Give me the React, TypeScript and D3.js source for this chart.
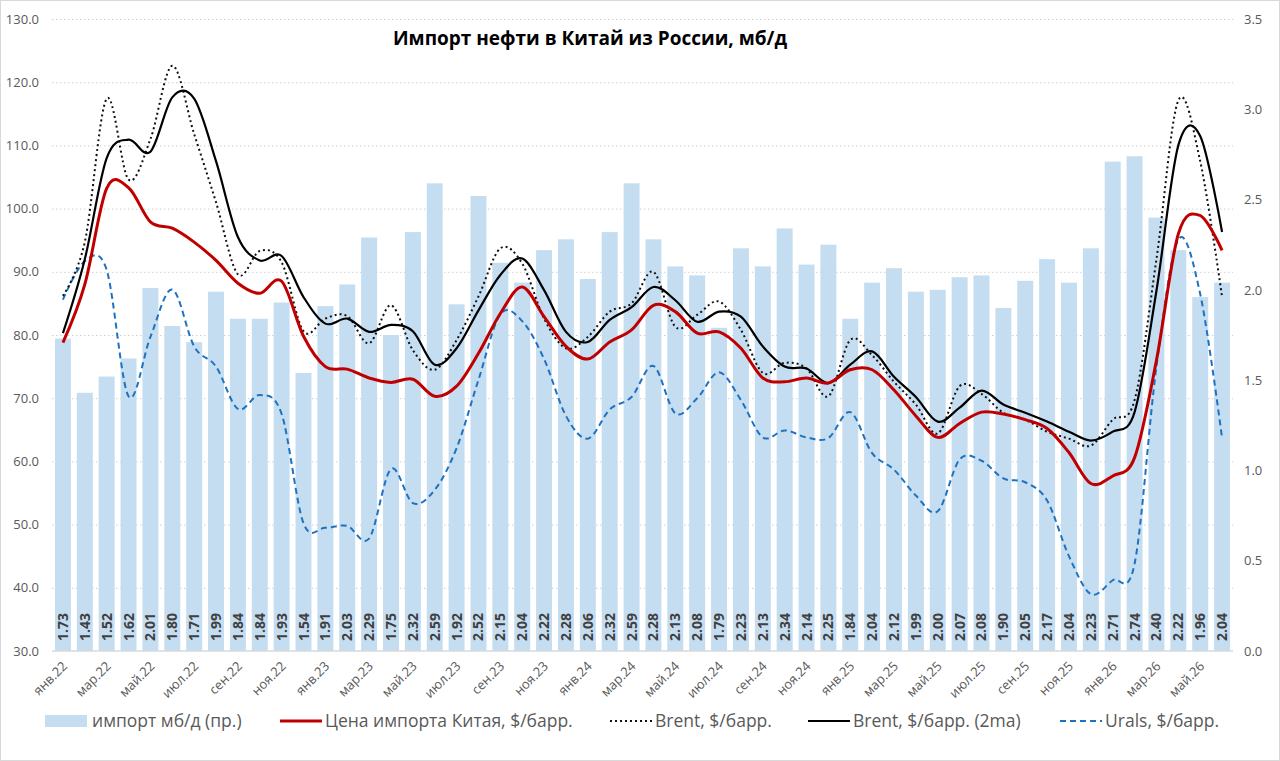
import { useEffect, useRef } from 'react'
import * as d3 from 'd3'

const MONTHS = [
  'янв.22', 'фев.22', 'мар.22', 'апр.22', 'май.22', 'июн.22', 'июл.22', 'авг.22', 'сен.22', 'окт.22', 'ноя.22', 'дек.22',
  'янв.23', 'фев.23', 'мар.23', 'апр.23', 'май.23', 'июн.23', 'июл.23', 'авг.23', 'сен.23', 'окт.23', 'ноя.23', 'дек.23',
  'янв.24', 'фев.24', 'мар.24', 'апр.24', 'май.24', 'июн.24', 'июл.24', 'авг.24', 'сен.24', 'окт.24', 'ноя.24', 'дек.24',
  'янв.25', 'фев.25', 'мар.25', 'апр.25', 'май.25', 'июн.25', 'июл.25', 'авг.25', 'сен.25', 'окт.25', 'ноя.25', 'дек.25',
  'янв.26', 'фев.26', 'мар.26', 'апр.26', 'май.26', 'июн.26',
]

// импорт, мб/д (правая ось)
const IMPORTS = [
  1.73, 1.43, 1.52, 1.62, 2.01, 1.80, 1.71, 1.99, 1.84, 1.84, 1.93, 1.54,
  1.91, 2.03, 2.29, 1.75, 2.32, 2.59, 1.92, 2.52, 2.15, 2.04, 2.22, 2.28,
  2.06, 2.32, 2.59, 2.28, 2.13, 2.08, 1.79, 2.23, 2.13, 2.34, 2.14, 2.25,
  1.84, 2.04, 2.12, 1.99, 2.00, 2.07, 2.08, 1.90, 2.05, 2.17, 2.04, 2.23,
  2.71, 2.74, 2.40, 2.22, 1.96, 2.04,
]

const CHINA_PRICE = [
  78.8, 88.0, 103.2, 103.3, 97.9, 96.9, 94.7, 91.8, 88.2, 86.6, 88.5, 79.8,
  75.0, 74.6, 73.2, 72.5, 73.0, 70.3, 71.9, 77.1, 83.4, 87.6, 82.9, 78.2,
  76.2, 78.9, 80.8, 84.7, 83.7, 80.3, 80.5, 77.9, 73.2, 72.6, 73.2, 72.4,
  74.5, 74.5, 71.3, 67.2, 63.8, 66.0, 67.8, 67.5, 66.6, 65.2, 61.4, 56.5,
  57.7, 60.6, 76.0, 96.0, 98.9, 93.4,
]

const BRENT = [
  86.2, 94.7, 117.4, 104.6, 111.0, 122.6, 111.8, 101.0, 89.6, 93.3, 91.5, 80.6,
  82.6, 83.0, 78.7, 84.7, 77.6, 74.5, 79.2, 86.1, 93.7, 91.3, 82.6, 77.9,
  79.7, 83.7, 85.0, 90.0, 81.3, 83.2, 85.3, 80.8, 74.0, 75.6, 74.7, 70.3,
  79.2, 76.8, 72.6, 69.0, 64.4, 71.9, 70.7, 67.7, 66.6, 64.7, 63.6, 62.5,
  66.6, 69.7, 92.0, 117.1, 107.5, 86.0,
]

const BRENT_2MA = [
  80.3, 92.0, 108.0, 110.9, 109.0, 117.6, 117.4, 107.5, 95.5, 91.8, 92.5, 86.0,
  81.8, 82.6, 80.5, 81.6, 80.6, 75.3, 77.9, 83.9, 89.5, 92.1, 87.1, 80.5,
  78.9, 82.4, 84.4, 87.6, 85.5, 82.1, 83.7, 82.9, 78.2, 75.0, 74.7, 72.4,
  75.3, 77.4, 73.4, 70.2, 66.3, 68.5, 71.2, 69.0, 67.7, 66.3, 64.7, 63.3,
  64.7, 67.8, 87.0, 110.0, 111.5, 96.3,
]

const URALS = [
  85.6, 91.7, 90.3, 70.3, 79.7, 87.2, 78.2, 75.0, 68.3, 70.5, 67.5, 50.2,
  49.5, 49.8, 47.8, 58.8, 53.4, 55.5, 62.1, 72.9, 83.3, 82.2, 76.2, 67.2,
  63.6, 68.2, 70.2, 75.1, 67.6, 70.0, 74.1, 69.7, 63.8, 64.9, 63.8, 63.7,
  67.8, 61.3, 58.7, 54.6, 52.1, 60.3, 60.1, 57.3, 56.7, 53.8, 45.0, 39.0,
  41.2, 43.8, 75.0, 95.1, 86.5, 63.7,
]

const LEFT_TICKS = [30, 40, 50, 60, 70, 80, 90, 100, 110, 120, 130]
const RIGHT_TICKS = [0, 0.5, 1.0, 1.5, 2.0, 2.5, 3.0, 3.5]

const W = 1280
const H = 761
const FONT = '"Open Sans", "Noto Sans", sans-serif'
const GREY = '#595959'
const BAR = '#c5ddf1'

export default function App() {
  const svgRef = useRef<SVGSVGElement>(null)

  useEffect(() => {
    if (!svgRef.current) return
    document.body.style.margin = '0'
    const svg = d3.select(svgRef.current)
    svg.selectAll('*').remove()

    const left = 52
    const right = 1233
    const top = 19
    const bottom = 651

    svg.append('rect').attr('x', 0.5).attr('y', 0.5).attr('width', W - 1).attr('height', H - 1)
      .attr('fill', '#fff').attr('stroke', '#d9d9d9')

    const x = d3.scaleBand<number>().domain(d3.range(MONTHS.length)).range([left, right])
      .paddingInner(0.27).paddingOuter(0.135)
    const yL = d3.scaleLinear().domain([30, 130]).range([bottom, top])
    const yR = d3.scaleLinear().domain([0, 3.5]).range([bottom, top])
    const cx = (i: number) => (x(i) ?? 0) + x.bandwidth() / 2

    // grid
    const grid = svg.append('g').attr('transform', `translate(${left},0)`)
      .call(d3.axisLeft(yL).tickValues(LEFT_TICKS.slice(1)).tickSize(-(right - left)).tickFormat(() => ''))
    grid.select('.domain').remove()
    grid.selectAll('line').attr('stroke', '#d0d0d0').attr('stroke-dasharray', '1.5,2.5')

    // bars
    svg.append('g').selectAll('rect').data(IMPORTS).join('rect')
      .attr('x', (_, i) => x(i) ?? 0).attr('width', x.bandwidth())
      .attr('y', d => yR(d)).attr('height', d => bottom - yR(d))
      .attr('fill', BAR)

    // baseline
    svg.append('line').attr('x1', left).attr('x2', right).attr('y1', bottom).attr('y2', bottom)
      .attr('stroke', '#d9d9d9').attr('stroke-width', 1.5)

    // bar labels
    svg.append('g').selectAll('text').data(IMPORTS).join('text')
      .attr('transform', (_, i) => `translate(${cx(i) + 5},${bottom - 10}) rotate(-90)`)
      .attr('font-family', FONT).attr('font-size', '14px').attr('font-weight', 700)
      .attr('fill', '#404040').text(d => d.toFixed(2))

    // lines
    const line = d3.line<number>().x((_, i) => cx(i)).y(d => yL(d)).curve(d3.curveCatmullRom.alpha(0))
    const series = [
      { data: URALS, color: '#1f72c0', width: 2, dash: '6,4' },
      { data: BRENT, color: '#111', width: 2, dash: '2,3' },
      { data: BRENT_2MA, color: '#000', width: 2.2, dash: null },
      { data: CHINA_PRICE, color: '#c00000', width: 3, dash: null },
    ]
    series.forEach(s => {
      svg.append('path').datum(s.data).attr('d', line)
        .attr('fill', 'none').attr('stroke', s.color).attr('stroke-width', s.width)
        .attr('stroke-dasharray', s.dash)
    })

    // axes
    const axL = svg.append('g').attr('transform', `translate(${left - 10},0)`)
      .call(d3.axisLeft(yL).tickValues(LEFT_TICKS).tickSize(0).tickFormat(d => (+d).toFixed(1)))
    axL.select('.domain').remove()
    axL.selectAll('text').attr('font-family', FONT).attr('font-size', '13px').attr('fill', GREY)

    const axR = svg.append('g').attr('transform', `translate(${right + 8},0)`)
      .call(d3.axisRight(yR).tickValues(RIGHT_TICKS).tickSize(0).tickFormat(d => (+d).toFixed(1)))
    axR.select('.domain').remove()
    axR.selectAll('text').attr('font-family', FONT).attr('font-size', '13px').attr('fill', GREY)

    const axB = svg.append('g').attr('transform', `translate(0,${bottom})`)
      .call(d3.axisBottom(x).tickValues(d3.range(0, MONTHS.length, 2)).tickSize(0).tickFormat(i => MONTHS[+i]))
    axB.select('.domain').remove()
    axB.selectAll('text')
      .attr('font-family', FONT).attr('font-size', '13px').attr('fill', GREY)
      .attr('text-anchor', 'end').attr('dy', null).attr('y', null)
      .attr('transform', 'translate(5,16) rotate(-45)')

    // title
    svg.append('text').attr('x', 590).attr('y', 45).attr('text-anchor', 'middle')
      .attr('font-family', FONT).attr('font-size', '19px').attr('font-weight', 700).attr('fill', '#000')
      .text('Импорт нефти в Китай из России, мб/д')

    // legend
    const ly = 721
    const lg = svg.append('g').attr('font-family', FONT).attr('font-size', '17.5px').attr('fill', GREY)
    lg.append('rect').attr('x', 45).attr('y', ly - 6).attr('width', 42).attr('height', 12).attr('fill', BAR)
    lg.append('text').attr('x', 92).attr('y', ly + 6).text('импорт мб/д (пр.)')
    const items = [
      { x0: 280, color: '#c00000', width: 3, dash: null, label: 'Цена импорта Китая, $/барр.' },
      { x0: 610, color: '#111', width: 2, dash: '2,3', label: 'Brent, $/барр.' },
      { x0: 808, color: '#000', width: 2.2, dash: null, label: 'Brent, $/барр. (2ma)' },
      { x0: 1060, color: '#1f72c0', width: 2, dash: '6,4', label: 'Urals, $/барр.' },
    ]
    items.forEach(it => {
      lg.append('line').attr('x1', it.x0).attr('x2', it.x0 + 42).attr('y1', ly).attr('y2', ly)
        .attr('stroke', it.color).attr('stroke-width', it.width).attr('stroke-dasharray', it.dash)
      lg.append('text').attr('x', it.x0 + 45).attr('y', ly + 6).text(it.label)
    })
  }, [])

  return <svg ref={svgRef} width={W} height={H} style={{ display: 'block' }} />
}
